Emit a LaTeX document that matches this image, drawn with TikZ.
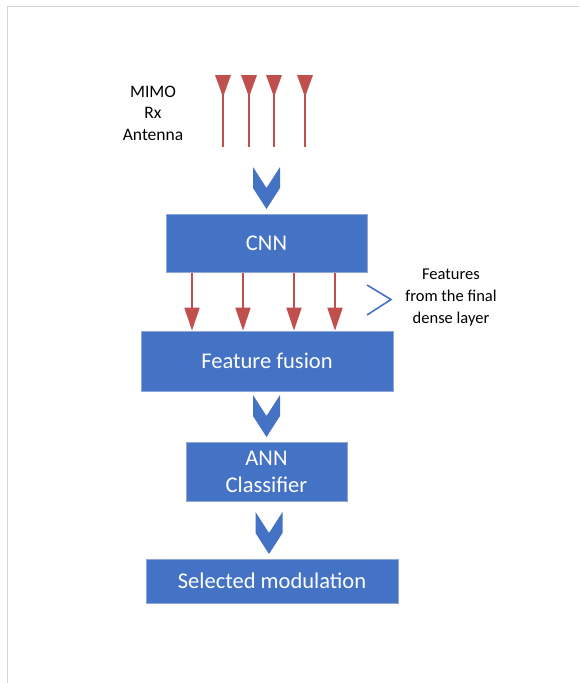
\documentclass[tikz,border=0pt]{standalone}
\usepackage{fontspec}
\setmainfont{Carlito}
\usetikzlibrary{arrows.meta}
\definecolor{boxblue}{HTML}{4472C4}
\definecolor{boxedge}{HTML}{8EA6D8}
\definecolor{antred}{HTML}{C0504D}
\definecolor{framegray}{HTML}{D4D4D4}
\tikzset{
  block/.style={draw=boxedge, line width=0.8pt, fill=boxblue, text=white,
    font=\fontsize{22.5}{27}\selectfont, align=center, inner sep=0pt},
  label/.style={font=\fontsize{17.5}{21.5}\selectfont, align=center, inner sep=0pt},
  featarrow/.style={antred, line width=2pt, -{Triangle[width=15pt,length=23pt]}},
  antline/.style={antred, line width=2pt},
  chev/.style={fill=boxblue},
}
\newcommand{\downchev}[2]{% centre x, top y
  \fill[chev] (#1-13.5,#2) -- (#1,#2+21) -- (#1+13.5,#2) -- (#1+13.5,#2+21)
    -- (#1,#2+42) -- (#1-13.5,#2+21) -- cycle;}
\begin{document}
\begin{tikzpicture}[x=1pt,y=-1pt]
\useasboundingbox (0,0) rectangle (579,683);
% frame edges
\draw[framegray, line width=1pt] (7,683) -- (7,6) -- (579,6);

% receive antennas
\foreach \ax in {223,249,274,305}{
  \draw[antline] (\ax,80) -- (\ax,147);
  \fill[antred] (\ax-8,75) -- (\ax+8,75) -- (\ax,97) -- cycle;
}
\node[label] (ant) at (153,113) {MIMO\\Rx\\Antenna};

% blocks
\node[block, minimum width=201pt, minimum height=58pt] (cnn) at (266.5,243.5) {CNN};
\node[block, minimum width=252pt, minimum height=60pt] (fusion) at (267,361) {Feature fusion};
\node[block, minimum width=161pt, minimum height=59pt] (ann) at (266.5,472) {ANN\\Classifier};
\node[block, minimum width=252pt, minimum height=44pt] (sel) at (272,581) {Selected modulation};

% flow chevrons
\downchev{266.5}{167}
\downchev{266.5}{395}
\downchev{269}{512}

% feature arrows from the dense layer
\foreach \fx in {192,243,294,335}{
  \draw[featarrow] (\fx,0 |- cnn.south) -- (\fx,0 |- fusion.north);
}
\draw[boxblue, line width=1.6pt] (367,285) -- (391,299.5) -- (367,315);
\node[label, font=\fontsize{16.5}{22}\selectfont] (feat) at (451,298) {Features\\from the final\\dense layer};
\end{tikzpicture}
\end{document}
